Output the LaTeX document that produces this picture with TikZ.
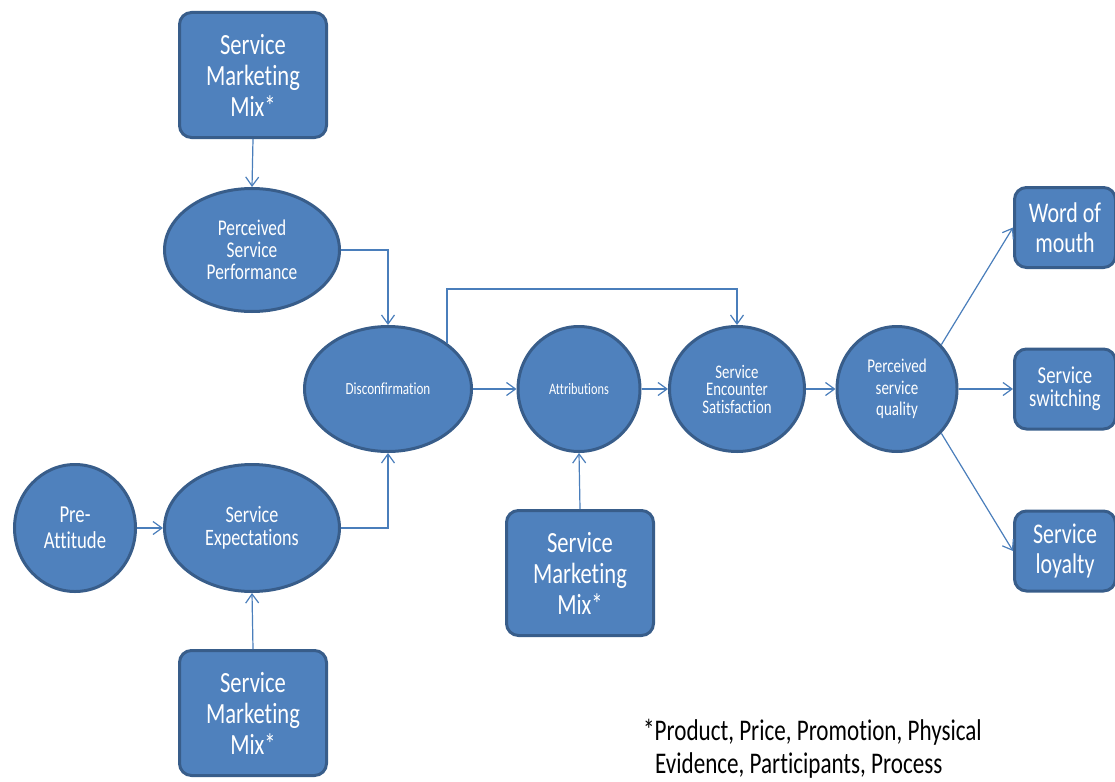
\documentclass[tikz,border=0pt]{standalone}
\usepackage{fontspec}
% Calibri-metric face, drawn a little condensed and without the common ligatures
\setmainfont{Carlito}[FakeStretch=0.77, Ligatures=NoCommon]
\usetikzlibrary{arrows.meta,shapes.geometric,calc}
\definecolor{fillc}{RGB}{79,129,189}
\definecolor{bordc}{RGB}{56,93,138}
\definecolor{linec}{RGB}{74,126,187}
\tikzset{
  shapebase/.style={draw=bordc, fill=fillc, line width=3pt, text=white, align=center, inner sep=0pt},
  rbox/.style={shapebase, rectangle, rounded corners=12pt},
  oval/.style={shapebase, ellipse},
  mixbox/.style={rbox, minimum width=147pt, minimum height=125pt, font=\fontsize{29.3}{31}\selectfont},
  outbox/.style={rbox, minimum width=101pt, minimum height=80pt},
  conn/.style={draw=linec, line width=1.2pt, -{Straight Barb[length=9pt,width=13pt,line width=1.2pt]}}
}
\begin{document}
\begin{tikzpicture}[x=1pt,y=-1pt]
\useasboundingbox (0,0) rectangle (1115,781);

% marketing mix boxes
\node[mixbox] (mixtop) at (253,75) {Service\\Marketing\\Mix*};
\node[mixbox] (mixbot) at (253,713) {Service\\Marketing\\Mix*};
\node[mixbox] (mixmid) at (580,573) {Service\\Marketing\\Mix*};

% ovals of the process chain
\node[oval, minimum width=175pt, minimum height=123pt, font=\fontsize{22.5}{22}\selectfont] (psp) at (252,250) {Perceived\\Service\\Performance};
\node[oval, minimum width=175pt, minimum height=127pt, font=\fontsize{23.5}{22.5}\selectfont] (sexp) at (252,528) {Service\\Expectations};
\node[oval, minimum width=121pt, minimum height=127pt, font=\fontsize{24.3}{26}\selectfont] (pre) at (75,528) {Pre-\\Attitude};
\node[oval, minimum width=167pt, minimum height=125pt, font=\fontsize{17}{16}\selectfont] (disc) at (388,389) {Disconfirmation};
\node[oval, minimum width=122pt, minimum height=125pt, font=\fontsize{16}{15}\selectfont] (attr) at (579,389) {Attributions};
\node[oval, minimum width=135pt, minimum height=125pt, font=\fontsize{19.2}{17.5}\selectfont] (ses) at (737,389) {Service\\Encounter\\Satisfaction};
\node[oval, minimum width=120pt, minimum height=125pt, font=\fontsize{19.5}{21.5}\selectfont] (psq) at (897,389) {Perceived\\service\\quality};

% outcome boxes
\node[outbox, font=\fontsize{28.5}{30}\selectfont] (wom) at (1065,227.5) {Word of\\mouth};
\node[outbox, font=\fontsize{24.3}{23}\selectfont] (swi) at (1065,389) {Service\\switching};
\node[outbox, font=\fontsize{28.5}{30}\selectfont] (loy) at (1065,551) {Service\\loyalty};

% footnote
\node[anchor=north west, align=left, inner sep=0pt, font=\fontsize{30}{33}\selectfont] (note) at (643,719)
  {*Product, Price, Promotion, Physical\\\hspace*{12pt}Evidence, Participants, Process};

% connectors
\coordinate (over) at (0,289);
\draw[conn] (mixtop.south) -- (psp.north);
\draw[conn] (psp.east) -| (disc.north);
\draw[conn] (sexp.east) -| (disc.south);
\draw[conn] (pre.east) -- (sexp.west);
\draw[conn] (mixbot.north) -- (sexp.south);
\draw[conn] (disc.east) -- (attr.west);
\draw[conn] (attr.east) -- (ses.west);
\draw[conn] (mixmid.north) -- (attr.south);
\draw[conn] (disc.38) -- (disc.38 |- over) -| (ses.north);
\draw[conn] (ses.east) -- (psq.west);
\draw[conn] (psq.45) -- (wom.west);
\draw[conn] (psq.east) -- (swi.west);
\draw[conn] (psq.-45) -- (loy.west);
\end{tikzpicture}
\end{document}
